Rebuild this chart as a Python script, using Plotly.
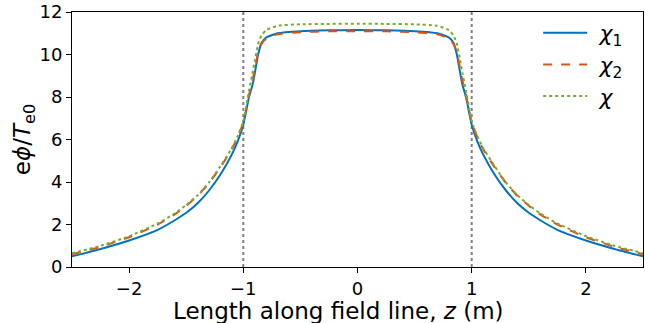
import plotly.graph_objects as go

# half-profile (z >= 0), mirrored for z < 0
z_half = [0.0, 0.25, 0.5, 0.7, 0.8, 0.84, 0.87, 0.9, 0.92, 0.95, 0.98, 1.0, 1.05, 1.1, 1.2, 1.3, 1.4, 1.5, 1.6, 1.75, 2.0, 2.25, 2.5]
chi1_half = [11.15, 11.14, 11.1, 11.0, 10.8, 10.55, 10.0, 9.1, 8.55, 8.0, 7.2, 6.7, 5.9, 5.3, 4.35, 3.6, 3.0, 2.55, 2.2, 1.75, 1.25, 0.85, 0.5]
chi2_half = [11.1, 11.09, 11.05, 10.95, 10.75, 10.5, 10.1, 9.3, 8.75, 8.1, 7.3, 6.8, 6.1, 5.55, 4.7, 3.95, 3.35, 2.88, 2.48, 2.0, 1.4, 0.95, 0.6]
chi_half = [11.45, 11.44, 11.42, 11.35, 11.15, 10.9, 10.5, 9.7, 9.1, 8.3, 7.4, 6.85, 6.15, 5.6, 4.75, 3.98, 3.38, 2.92, 2.52, 2.05, 1.45, 1.0, 0.65]

x_ticks = [-2, -1, 0, 1, 2]
x_ticklabels = ["−2", "−1", "0", "1", "2"]
y_ticks = [0, 2, 4, 6, 8, 10, 12]

def mirror(zs, vs):
    zz = [-z for z in zs[::-1]] + zs[1:]
    vv = vs[::-1] + vs[1:]
    return zz, vv

series = [
    ("\u2004<i>χ</i><sub>1</sub>", chi1_half, "#0072bd", "solid"),
    ("\u2004<i>χ</i><sub>2</sub>", chi2_half, "#d95319", "dash"),
    ("\u2004<i>χ</i>", chi_half, "#77ac30", "dot"),
]

fig = go.Figure()
for name, vals, color, dash in series:
    zz, vv = mirror(z_half, vals)
    fig.add_trace(go.Scatter(x=zz, y=vv, mode="lines", name=name,
                             line=dict(color=color, width=2, dash=dash, shape="spline", smoothing=0.5)))

for xv in [-1, 1]:
    fig.add_shape(type="line", x0=xv, x1=xv, y0=0, y1=1, xref="x", yref="paper",
                  line=dict(color="gray", width=2, dash="dot"), layer="below")

fig.add_annotation(text="Length along field line, <i>z</i> (m)", xref="paper", yref="paper",
                   x=0.4668, y=-0.1737, xanchor="center", yanchor="middle", showarrow=False,
                   font=dict(size=23, family="DejaVu Sans", color="black"))

fig.update_layout(
    width=645, height=323,
    margin=dict(l=72, r=1, t=8, b=56),
    plot_bgcolor="white", paper_bgcolor="white",
    font=dict(family="DejaVu Sans", size=18, color="black"),
    showlegend=True,
    legend=dict(x=0.8164, y=1.0, xanchor="left", yanchor="top", font=dict(size=22),
                bgcolor="rgba(255,255,255,0)", itemwidth=44),
)
fig.update_xaxes(range=[-2.5, 2.5], tickvals=x_ticks, ticktext=x_ticklabels,
                 showgrid=False, zeroline=False, showline=True, linecolor="black", linewidth=1, mirror=True,
                 ticks="outside", ticklen=5, tickcolor="black", ticklabeloverflow="allow")
fig.update_yaxes(range=[0, 12], tickvals=y_ticks,
                 showgrid=False, zeroline=False, showline=True, linecolor="black", linewidth=1, mirror=True,
                 ticks="outside", ticklen=5, tickcolor="black", ticklabeloverflow="allow",
                 title=dict(text="e<i>ϕ</i>/<i>T</i><sub>e0</sub>", font=dict(size=23), standoff=2))

fig.write_html("out.html")
